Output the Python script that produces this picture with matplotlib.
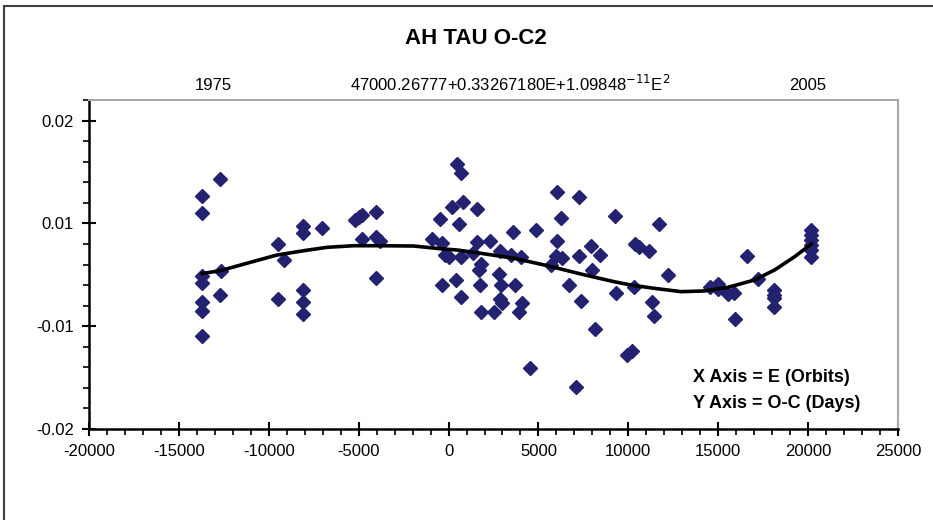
import matplotlib.pyplot as plt
from matplotlib.lines import Line2D

# observed O-C residuals: E (orbits), O-C (days)
epoch = [
    -13700, -13700, -13700, -13700, -13700, -13700, -13700,
    -12700, -12650, -12700,
    -9500, -9460, -9150,
    -8100, -8100, -8100, -8100, -8100,
    -7040, -5200, -5000, -4800, -4830,
    -4040, -4040, -3790, -4040,
    -930, -485, -351, -362, -223, 0, 195, 390,
    446, 669, 780, 557, 669, 669,
    1338, 1600, 1600, 1745, 1812, 1711, 1823,
    2300, 2536, 2860, 2804, 2899, 2843, 2954,
    3495, 3606, 3679, 3902, 4013, 4086, 4532, 4866,
    5685, 5981, 6059, 6059, 6243, 6315, 6689, 7096,
    7246, 7246, 7358, 7915, 7954, 8121, 8400,
    9253, 9325, 9950, 10228, 10340, 10368, 10591, 11148,
    11722, 12190, 11332, 11410,
    14531, 15011, 14977, 15568, 15903, 15942,
    16611, 17207, 18099, 18099, 18099, 18099,
    20178, 20178, 20178, 20178, 20178, 20178,
]
o_c = [
    0.01027, 0.00806, -0.00015, -0.00110, -0.00356, -0.00469, -0.00793,
    0.01247, 0.00054, -0.00261,
    0.00396, -0.00307, 0.00189,
    0.00637, 0.00539, -0.00196, -0.00352, -0.00508,
    0.00612, 0.00706, 0.00750, 0.00774, 0.00465,
    0.00815, 0.00491, 0.00435, -0.00045,
    0.00468, 0.00722, 0.00416, -0.00134, 0.00260, 0.00235, 0.00876, -0.00073,
    0.01435, 0.01317, 0.00942, 0.00656, 0.00235, -0.00285,
    0.00283, 0.00857, 0.00420, -0.00132, 0.00141, 0.00063, -0.00486,
    0.00435, -0.00486, 0.00305, 0.00007, -0.00136, -0.00307, -0.00361,
    0.00261, 0.00552, -0.00132, -0.00482, 0.00228, -0.00369, -0.01208, 0.00582,
    0.00128, 0.00244, 0.01075, 0.00443, 0.00741, 0.00222, -0.00128, -0.01451,
    0.01010, 0.00244, -0.00333, 0.00374, 0.00063, -0.00702, 0.00261,
    0.00767, -0.00239, -0.01040, -0.00984, -0.00154, 0.00396, 0.00365, 0.00309,
    0.00660, -0.00002, -0.00352, -0.00530,
    -0.00161, -0.00119, -0.00180, -0.00252, -0.00232, -0.00573,
    0.00241, -0.00054, -0.00196, -0.00261, -0.00304, -0.00421,
    0.00582, 0.00517, 0.00452, 0.00387, 0.00322, 0.00235,
]

# polynomial trend line
trend_e = [-13700, -12700, -11220, -9550, -8065, -6760, -5280, -3790, -1934,
           -446, 485, 1784, 3640, 5500, 7358, 9214, 10145, 11444, 12932,
           14230, 15534, 17018, 18133, 19248, 20178]
trend_v = [0.00017, 0.00054, 0.00150, 0.00257, 0.00313, 0.00357, 0.00378,
           0.00378, 0.00374, 0.00339, 0.00322, 0.00280, 0.00215, 0.00119,
           0.00011, -0.00089, -0.00132, -0.00175, -0.00218, -0.00209,
           -0.00162, -0.00067, 0.00063, 0.00235, 0.00400]

y_ticks = [0.02, 0.02 / 3, -0.02 / 3, -0.02]
y_labels = ['0.02', '0.01', '-0.01', '-0.02']
years = ['1975', '2005']
year_x = [213, 808]

plt.rcParams['font.family'] = ['Liberation Sans', 'DejaVu Sans']
plt.rcParams['axes.unicode_minus'] = False

fig = plt.figure(figsize=(9.33, 5.2), dpi=100)
ax = fig.add_axes([89 / 933, 1 - 429 / 520, 809 / 933, 329 / 520])

ax.plot(epoch, o_c, 'D', color='#222270', markersize=7.5, zorder=2)
ax.plot(trend_e, trend_v, color='black', lw=2.6, zorder=3)

ax.set_xlim(-20000, 25000)
ax.set_ylim(-0.02, 0.02 + 20.7 * 0.04 / 308.3)
ax.set_xticks(range(-20000, 25001, 5000))
ax.set_xticks(range(-20000, 25001, 1000), minor=True)
ax.set_yticks(y_ticks)
ax.set_yticklabels(y_labels)
ax.set_yticks([-0.02 + i * 0.04 / 15 for i in range(17)], minor=True)

ax.tick_params(which='major', direction='inout', length=10, width=1.5, labelsize=12, color='black')
ax.tick_params(which='minor', direction='out', length=4, width=1.2, color='black')
ax.tick_params(axis='x', which='major', pad=6)
ax.tick_params(axis='y', which='major', pad=6)

for s in ['left', 'bottom']:
    ax.spines[s].set_linewidth(1.8)
    ax.spines[s].set_color('black')
for s in ['top', 'right']:
    ax.spines[s].set_linewidth(1.5)
    ax.spines[s].set_color('#a8a8a8')

fig.text(476 / 933, 1 - 38 / 520, 'AH TAU O-C2', ha='center', va='center',
         fontsize=16, fontweight='bold')
for lab, px in zip(years, year_x):
    fig.text(px / 933, 1 - 85 / 520, lab, ha='center', va='center', fontsize=12)
fig.text(510 / 933, 1 - 84 / 520, r'47000.26777+0.33267180E+1.09848$^{-11}$E$^{2}$',
         ha='center', va='center', fontsize=12)

fig.text(693 / 933, 1 - 378 / 520, 'X Axis = E (Orbits)', ha='left', va='center',
         fontsize=13, fontweight='bold')
fig.text(693 / 933, 1 - 404 / 520, 'Y Axis = O-C (Days)', ha='left', va='center',
         fontsize=13, fontweight='bold')

# outer chart frame (only left and top edges show)
fig.add_artist(Line2D([4 / 933, 4 / 933], [0, 1 - 6 / 520], color='#404040', lw=1.5))
fig.add_artist(Line2D([4 / 933, 1], [1 - 6 / 520, 1 - 6 / 520], color='#404040', lw=1.5))

fig.savefig('out.png', dpi=100)
